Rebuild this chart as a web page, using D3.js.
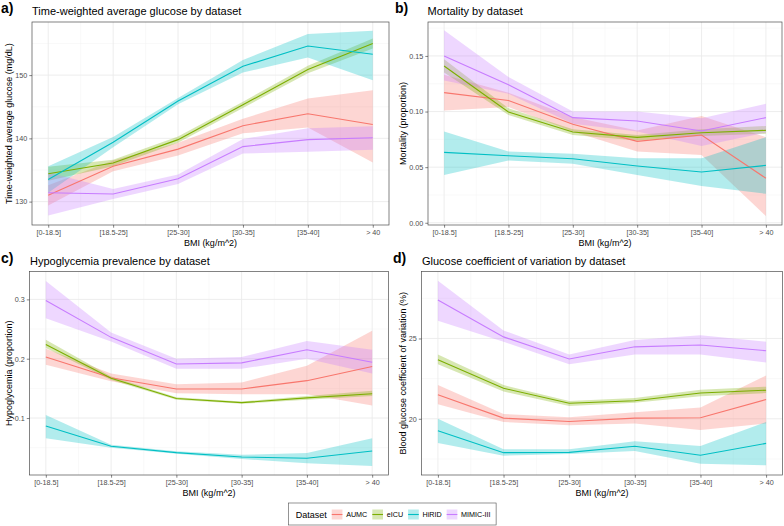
<!DOCTYPE html>
<html>
<head>
<meta charset="utf-8">
<script src="https://cdn.jsdelivr.net/npm/d3@7"></script>
<style>
  html, body { margin: 0; padding: 0; background: #fff; }
  svg { display: block; font-family: "Liberation Sans", Arial, Helvetica, sans-serif; }
</style>
</head>
<body>
<svg id="chart" width="784" height="526"></svg>
<script>
// ---------- DATA ----------
const categories = ["[0-18.5]", "[18.5-25]", "[25-30]", "[30-35]", "[35-40]", "> 40"];
const datasets = ["AUMC", "eICU", "HiRID", "MIMIC-III"];
const colors = ["#F8766D", "#7CAE00", "#00BFC4", "#C77CFF"];

// Panel a: time-weighted average glucose (mg/dL); rows = datasets
const twaMean = [
  [131.0, 135.6, 138.3, 142.0, 143.9, 142.2],
  [134.4, 136.1, 139.8, 145.3, 150.9, 155.0],
  [133.5, 139.4, 145.9, 151.4, 154.6, 153.3],
  [131.4, 131.2, 133.6, 138.7, 139.8, 140.1]
];
const twaLow = [
  [129.4, 134.8, 137.3, 140.8, 141.7, 136.2],
  [133.3, 135.6, 139.3, 144.8, 150.3, 154.2],
  [131.4, 138.6, 145.4, 150.4, 152.8, 149.2],
  [127.8, 130.4, 132.8, 137.6, 137.9, 138.2]
];
const twaHigh = [
  [132.6, 136.5, 139.3, 143.1, 146.3, 147.6],
  [135.5, 136.6, 140.3, 145.8, 151.5, 155.8],
  [135.6, 140.2, 146.4, 152.4, 156.5, 157.0],
  [134.6, 132.0, 134.3, 139.9, 141.6, 141.9]
];
const twaTicks = [130, 140, 150];
const twaMinor = [125, 135, 145, 155];

// Panel b: mortality (proportion)
const mortMean = [
  [0.117, 0.110, 0.0885, 0.0732, 0.0789, 0.040],
  [0.141, 0.0996, 0.0816, 0.0768, 0.081, 0.0831],
  [0.0633, 0.0603, 0.0576, 0.051, 0.0456, 0.0516],
  [0.150, 0.124, 0.0945, 0.0915, 0.0825, 0.0945]
];
const mortLow = [
  [0.101, 0.104, 0.082, 0.064, 0.061, 0.006],
  [0.135, 0.097, 0.079, 0.074, 0.078, 0.080],
  [0.043, 0.056, 0.053, 0.043, 0.033, 0.026],
  [0.128, 0.116, 0.089, 0.082, 0.069, 0.081]
];
const mortHigh = [
  [0.133, 0.117, 0.095, 0.083, 0.096, 0.077],
  [0.147, 0.103, 0.084, 0.079, 0.084, 0.087],
  [0.082, 0.064, 0.062, 0.058, 0.058, 0.077],
  [0.173, 0.131, 0.100, 0.100, 0.094, 0.107]
];
const mortTicks = [0, 0.05, 0.10, 0.15];
const mortMinor = [0.025, 0.075, 0.125, 0.175];

// Panel c: hypoglycemia (proportion)
const hypoMean = [
  [0.203, 0.168, 0.149, 0.149, 0.163, 0.187],
  [0.224, 0.167, 0.133, 0.126, 0.134, 0.141],
  [0.0866, 0.0524, 0.0417, 0.0344, 0.0322, 0.0445],
  [0.298, 0.236, 0.191, 0.193, 0.215, 0.194]
];
const hypoLow = [
  [0.190, 0.162, 0.142, 0.140, 0.140, 0.121],
  [0.218, 0.164, 0.131, 0.124, 0.131, 0.137],
  [0.066, 0.050, 0.040, 0.031, 0.024, 0.019],
  [0.268, 0.229, 0.183, 0.183, 0.200, 0.175]
];
const hypoHigh = [
  [0.217, 0.175, 0.157, 0.160, 0.188, 0.247],
  [0.232, 0.170, 0.135, 0.128, 0.137, 0.146],
  [0.105, 0.055, 0.044, 0.038, 0.041, 0.066],
  [0.331, 0.244, 0.200, 0.203, 0.230, 0.215]
];
const hypoTicks = [0.1, 0.2, 0.3];
const hypoMinor = [0.05, 0.15, 0.25];

// Panel d: glucose coefficient of variation (%)
const cvMean = [
  [21.5, 20.04, 19.83, 20.04, 20.06, 21.2],
  [23.68, 21.9, 20.97, 21.12, 21.61, 21.78],
  [19.26, 17.89, 17.91, 18.29, 17.73, 18.47],
  [27.4, 25.1, 23.72, 24.48, 24.59, 24.24]
];
const cvLow = [
  [20.9, 19.8, 19.6, 19.7, 19.3, 19.7],
  [23.4, 21.7, 20.8, 21.0, 21.4, 21.6],
  [18.5, 17.7, 17.8, 18.0, 17.2, 17.1],
  [26.1, 24.8, 23.4, 24.0, 24.0, 23.5]
];
const cvHigh = [
  [22.1, 20.3, 20.1, 20.4, 20.7, 22.7],
  [24.0, 22.1, 21.1, 21.3, 21.8, 22.0],
  [20.0, 18.1, 18.1, 18.6, 18.3, 19.8],
  [28.6, 25.5, 24.0, 24.9, 25.2, 24.8]
];
const cvTicks = [20, 25];
const cvMinor = [17.5, 22.5, 27.5];

// ---------- DRAW ----------
const svg = d3.select("#chart");
const FONT_TICK = 7.2, FONT_AXIS = 9, FONT_TITLE = 11, FONT_TAG = 14;

const panels = [
  { tag: "a)", title: "Time-weighted average glucose by dataset", ylab: "Time-weighted average glucose (mg/dL)",
    mean: twaMean, low: twaLow, high: twaHigh, ticks: twaTicks, minor: twaMinor, fmt: d3.format("d"),
    ydom: [126.3, 158.4], box: { x0: 32, x1: 389, y0: 22, y1: 225 }, tagX: 1, titleX: 32, ylabX: 12 },
  { tag: "b)", title: "Mortality by dataset", ylab: "Mortality (proportion)",
    mean: mortMean, low: mortLow, high: mortHigh, ticks: mortTicks, minor: mortMinor, fmt: d3.format(".2f"),
    ydom: [-0.002, 0.1805], box: { x0: 428, x1: 782, y0: 22, y1: 225 }, tagX: 395, titleX: 427.5, ylabX: 406 },
  { tag: "c)", title: "Hypoglycemia prevalence by dataset", ylab: "Hypoglycemia (proportion)",
    mean: hypoMean, low: hypoLow, high: hypoHigh, ticks: hypoTicks, minor: hypoMinor, fmt: d3.format(".1f"),
    ydom: [0.004, 0.347], box: { x0: 29.5, x1: 388.5, y0: 271.5, y1: 475 }, tagX: 1, titleX: 30, ylabX: 12 },
  { tag: "d)", title: "Glucose coefficient of variation by dataset", ylab: "Blood glucose coefficient of variation (%)",
    mean: cvMean, low: cvLow, high: cvHigh, ticks: cvTicks, minor: cvMinor, fmt: d3.format("d"),
    ydom: [16.5, 29.17], box: { x0: 421.5, x1: 782.5, y0: 271.5, y1: 475 }, tagX: 393, titleX: 422, ylabX: 406 }
];

const xIdx = d3.range(categories.length);

panels.forEach(p => {
  const b = p.box;
  const x = d3.scaleLinear().domain([-0.25, categories.length - 0.75]).range([b.x0, b.x1]);
  const y = d3.scaleLinear().domain(p.ydom).range([b.y1, b.y0]);
  const g = svg.append("g");

  // background
  g.append("rect").attr("x", b.x0).attr("y", b.y0).attr("width", b.x1 - b.x0).attr("height", b.y1 - b.y0)
    .attr("fill", "#fff");

  // minor grid
  const xMinor = xIdx.slice(0, -1).map(i => i + 0.5);
  g.selectAll(".vminor").data(xMinor).enter().append("line")
    .attr("x1", d => x(d)).attr("x2", d => x(d)).attr("y1", b.y0).attr("y2", b.y1)
    .attr("stroke", "#f2f2f2").attr("stroke-width", 0.5);
  g.selectAll(".hminor").data(p.minor.filter(v => v > p.ydom[0] && v < p.ydom[1])).enter().append("line")
    .attr("x1", b.x0).attr("x2", b.x1).attr("y1", d => y(d)).attr("y2", d => y(d))
    .attr("stroke", "#f2f2f2").attr("stroke-width", 0.5);
  // major grid
  g.selectAll(".vmajor").data(xIdx).enter().append("line")
    .attr("x1", d => x(d)).attr("x2", d => x(d)).attr("y1", b.y0).attr("y2", b.y1)
    .attr("stroke", "#ebebeb").attr("stroke-width", 0.9);
  g.selectAll(".hmajor").data(p.ticks).enter().append("line")
    .attr("x1", b.x0).attr("x2", b.x1).attr("y1", d => y(d)).attr("y2", d => y(d))
    .attr("stroke", "#ebebeb").attr("stroke-width", 0.9);

  // ribbons
  const area = d3.area().x((d, i) => x(i)).y0(d => y(d[0])).y1(d => y(d[1]));
  const line = d3.line().x((d, i) => x(i)).y(d => y(d));
  datasets.forEach((ds, k) => {
    const band = p.low[k].map((lo, i) => [lo, p.high[k][i]]);
    g.append("path").datum(band).attr("d", area)
      .attr("fill", colors[k]).attr("fill-opacity", 0.3).attr("stroke", "none");
  });
  datasets.forEach((ds, k) => {
    g.append("path").datum(p.mean[k]).attr("d", line)
      .attr("fill", "none").attr("stroke", colors[k]).attr("stroke-width", 1.1);
  });

  // border
  g.append("rect").attr("x", b.x0).attr("y", b.y0).attr("width", b.x1 - b.x0).attr("height", b.y1 - b.y0)
    .attr("fill", "none").attr("stroke", "#4d4d4d").attr("stroke-width", 0.7);

  // x axis
  const xAxis = d3.axisBottom(x).tickValues(xIdx).tickFormat(i => categories[i]).tickSize(2.7).tickPadding(2);
  const xa = g.append("g").attr("transform", `translate(0,${b.y1})`).call(xAxis);
  xa.select(".domain").remove();
  xa.selectAll(".tick line").attr("stroke", "#333").attr("stroke-width", 0.6);
  xa.selectAll(".tick text").attr("fill", "#4d4d4d").attr("font-size", FONT_TICK)
    .attr("font-family", "Liberation Sans, Arial, sans-serif");

  // y axis
  const yAxis = d3.axisLeft(y).tickValues(p.ticks).tickFormat(p.fmt).tickSize(2.7).tickPadding(2);
  const ya = g.append("g").attr("transform", `translate(${b.x0},0)`).call(yAxis);
  ya.select(".domain").remove();
  ya.selectAll(".tick line").attr("stroke", "#333").attr("stroke-width", 0.6);
  ya.selectAll(".tick text").attr("fill", "#4d4d4d").attr("font-size", FONT_TICK)
    .attr("font-family", "Liberation Sans, Arial, sans-serif");

  // axis titles
  g.append("text").attr("x", (b.x0 + b.x1) / 2).attr("y", b.y1 + 21).attr("text-anchor", "middle")
    .attr("font-size", FONT_AXIS).attr("fill", "#000").text("BMI (kg/m^2)");
  g.append("text").attr("transform", `translate(${p.ylabX},${(b.y0 + b.y1) / 2}) rotate(-90)`)
    .attr("text-anchor", "middle").attr("font-size", FONT_AXIS).attr("fill", "#000").text(p.ylab);

  // title and tag
  g.append("text").attr("x", p.titleX).attr("y", b.y0 - 7).attr("font-size", FONT_TITLE).attr("fill", "#000")
    .text(p.title);
  g.append("text").attr("x", p.tagX).attr("y", b.y0 - 9).attr("font-size", FONT_TAG).attr("font-weight", "bold")
    .attr("fill", "#000").text(p.tag);
});

// ---------- LEGEND ----------
const lg = svg.append("g");
const boxX = 288.5, boxY = 503, boxH = 22;
const legendTitle = lg.append("text").attr("x", 295.7).attr("y", 517.5).attr("font-size", FONT_AXIS)
  .attr("fill", "#000").text("Dataset");
let cx = 295.7 + legendTitle.node().getComputedTextLength() + 5;
datasets.forEach((ds, k) => {
  lg.append("rect").attr("x", cx).attr("y", 509.5).attr("width", 10.7).attr("height", 10)
    .attr("fill", colors[k]).attr("fill-opacity", 0.3);
  lg.append("line").attr("x1", cx).attr("x2", cx + 10.7).attr("y1", 514.5).attr("y2", 514.5)
    .attr("stroke", colors[k]).attr("stroke-width", 1.1);
  const t = lg.append("text").attr("x", cx + 10.7 + 3.7).attr("y", 517).attr("font-size", FONT_TICK)
    .attr("fill", "#000").text(ds);
  cx += 10.7 + 3.7 + t.node().getComputedTextLength() + 5;
});
lg.insert("rect", ":first-child").attr("x", boxX).attr("y", boxY).attr("width", cx - boxX + 0.5).attr("height", boxH)
  .attr("fill", "#fff").attr("stroke", "#4d4d4d").attr("stroke-width", 0.6);
</script>
</body>
</html>
